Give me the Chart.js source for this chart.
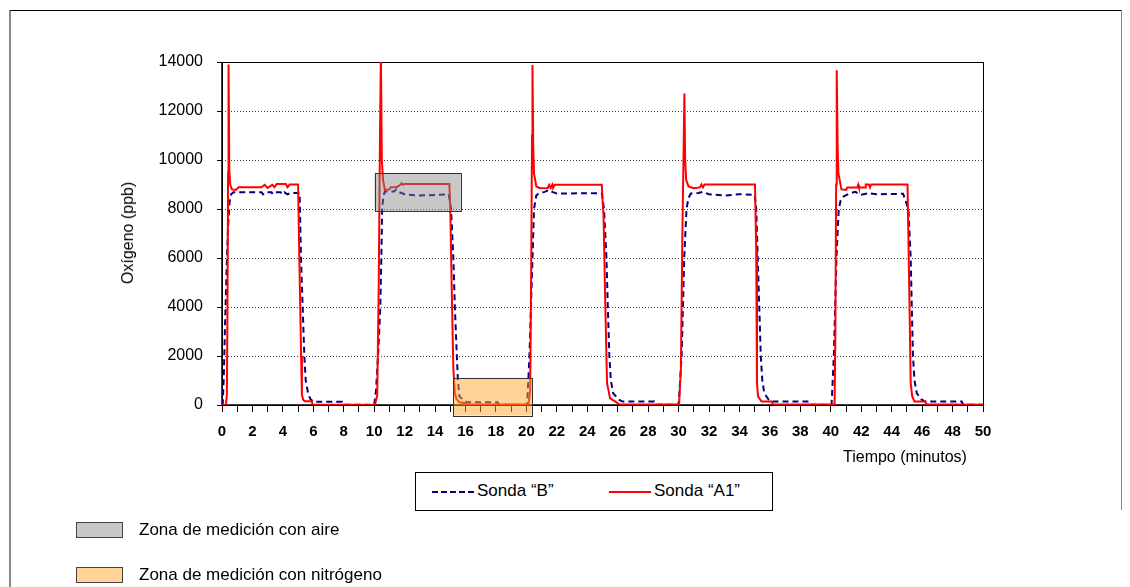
<!DOCTYPE html>
<html>
<head>
<meta charset="utf-8">
<script src="https://cdn.jsdelivr.net/npm/chart.js@4.4.0/dist/chart.umd.min.js"></script>
<style>
  html, body { margin: 0; padding: 0; background: #fff; }
  #wrap { position: relative; width: 1130px; height: 587px; overflow: hidden;
          font-family: "Liberation Sans", Arial, sans-serif; color: #000; }
  #frame { position: absolute; left: 9px; top: 10px; width: 1110px; height: 620px;
           border-top: 1px solid #000; border-left: 2px solid #888; }
  #frameR { position: absolute; left: 1121px; top: 10px; width: 0; height: 500px; border-left: 1px solid #888; }
  #grafico { position: absolute; left: 0; top: 0; }
  .txt { position: absolute; white-space: nowrap; font-size: 16px; line-height: 16px; }
  #ytitle { left: 128px; top: 233px; transform: translate(-50%, -50%) rotate(-90deg); }
  #xtitle { left: 843px; top: 449px; }
  #leyenda { position: absolute; left: 415px; top: 472px; width: 356px; height: 37px;
             border: 1px solid #000; background: #fff; }
  .muestra { position: absolute; top: 18px; height: 0; }
  .caja { position: absolute; left: 76px; width: 45px; height: 14px; border: 1px solid #444; }
</style>
</head>
<body>
<div id="wrap">
  <div id="frame"></div>
  <div id="frameR"></div>
  <canvas id="grafico" width="1130" height="587"></canvas>
  <div class="txt" id="ytitle">Oxígeno (ppb)</div>
  <div class="txt" id="xtitle">Tiempo (minutos)</div>
  <div id="leyenda">
    <div class="muestra" style="left:16px;width:42px;border-top:2px dashed #000080;"></div>
    <div class="txt" style="left:61px;top:10px;font-size:17px;">Sonda “B”</div>
    <div class="muestra" style="left:193px;width:42px;border-top:2px solid #ff0000;"></div>
    <div class="txt" style="left:238px;top:10px;font-size:17px;">Sonda “A1”</div>
  </div>
  <div class="caja" style="top:522px;background:#c8c8c8;"></div>
  <div class="txt" style="left:139px;top:522px;font-size:17px;">Zona de medición con aire</div>
  <div class="caja" style="top:567px;background:#ffd296;"></div>
  <div class="txt" style="left:139px;top:567px;font-size:17px;">Zona de medición con nitrógeno</div>
</div>
<script>
// Sonda "A1" (linea roja): tiempo en minutos y oxigeno en ppb
const tiempoA1 = [
  0, 0.25, 0.32, 0.36, 0.40, 0.43, 0.48, 0.54, 0.65, 0.9, 1.1, 2.6, 2.8, 3.0, 3.3, 3.45, 3.6, 4.2, 4.3, 4.45, 5.0,
  5.08, 5.2, 5.25, 5.35, 5.45, 5.9, 5.95, 10.05,
  10.2, 10.3, 10.38, 10.44, 10.5, 10.58, 10.7, 11.0, 11.1, 11.5, 11.7, 11.8, 11.9, 12.0, 14.94,
  15.0, 15.1, 15.2, 15.3, 15.4, 15.6, 16.0, 16.1, 20.13,
  20.25, 20.32, 20.37, 20.4, 20.45, 20.5, 20.65, 20.9, 21.4, 21.5, 21.6, 21.7, 21.75, 21.85, 24.95,
  25.07, 25.2, 25.3, 25.5, 25.85, 26.1, 30.03,
  30.15, 30.25, 30.33, 30.38, 30.43, 30.5, 30.65, 31.0, 31.4, 31.5, 31.6, 31.7, 35.02,
  35.1, 35.15, 35.22, 35.45, 36.1, 36.2, 40.25,
  40.3, 40.35, 40.39, 40.45, 40.5, 40.7, 41.0, 41.1, 41.75, 41.8, 41.85, 42.25, 42.3, 42.5, 42.58, 42.65, 45.04,
  45.15, 45.25, 45.35, 45.5, 46.2, 46.3, 50
];
const sondaA1 = [
  0, 0, 400, 4000, 9500, 13900, 9600, 9000, 8800, 8780, 8890, 8890, 8990, 8860, 8990, 8890, 9020, 9020, 8890, 9000, 9000,
  6000, 2000, 400, 200, 150, 150, 20, 0,
  400, 5000, 11000, 14300, 10000, 9200, 8780, 8800, 8890, 8900, 8980, 9050, 8990, 9020, 9020,
  7960, 4570, 1500, 490, 250, 110, 70, 25, 20,
  600, 6000, 11000, 13880, 10500, 9450, 8920, 8850, 8860, 8990, 8860, 8990, 8860, 8990, 8990,
  7680, 3600, 880, 270, 140, 30, 20,
  1500, 7000, 10500, 12710, 10000, 9180, 8920, 8850, 8880, 9000, 8880, 9000, 9000,
  6320, 880, 350, 140, 140, 30, 20,
  3000, 9000, 13660, 10500, 9450, 8800, 8780, 8880, 8880, 8990, 8880, 8880, 9000, 9000, 8880, 9000, 9000,
  4970, 880, 350, 140, 140, 30, 10
];

// Sonda "B" (linea azul discontinua)
const tiempoB = [
  0, 0.05, 0.12, 0.2, 0.3, 0.4, 0.5, 0.6, 0.75, 2.6, 2.7, 2.85, 3.25, 3.35, 3.5, 3.85, 3.95, 4.1, 4.3, 4.5, 5.1,
  5.19, 5.3, 5.41, 5.5, 5.65, 5.8, 6.0, 7.9, 8.0, 10.0,
  10.12, 10.25, 10.33, 10.4, 10.47, 10.52, 10.6, 10.7, 11.3, 11.45, 11.6, 12.0, 13.0, 14.9,
  15.05, 15.2, 15.3, 15.43, 15.5, 15.6, 15.85, 16.1, 18.1, 18.2, 20.05,
  20.2, 20.3, 20.4, 20.5, 20.65, 20.8, 21.2, 21.5, 21.7, 22.0, 24.95,
  25.1, 25.26, 25.35, 25.45, 25.55, 25.7, 26.05, 26.3, 28.4, 28.5, 30.0,
  30.2, 30.37, 30.52, 30.65, 30.8, 31.3, 31.6, 32.0, 33.0, 34.0, 35.0,
  35.1, 35.2, 35.3, 35.4, 35.5, 35.63, 35.9, 36.1, 38.6, 38.7, 40.05,
  40.2, 40.37, 40.52, 40.65, 40.8, 41.2, 41.6, 42.0, 42.5, 43.0, 44.75,
  45.1, 45.25, 45.32, 45.4, 45.5, 45.65, 45.95, 46.2, 48.6, 48.7, 50
];
const sondaB = [
  0, 50, 1200, 3300, 5500, 7300, 8300, 8600, 8680, 8680, 8600, 8680, 8680, 8600, 8680, 8680, 8600, 8680, 8600, 8650, 8650,
  6000, 4000, 2000, 1000, 500, 250, 130, 130, 10, 10,
  600, 2000, 3000, 4000, 6000, 8000, 8500, 8710, 8710, 8800, 8700, 8600, 8550, 8600,
  8000, 6000, 4000, 2000, 1000, 350, 210, 110, 110, 10, 10,
  2000, 4000, 6000, 8000, 8550, 8630, 8700, 8780, 8700, 8630, 8650,
  8000, 6000, 4000, 2000, 1000, 480, 230, 140, 140, 10, 10,
  2000, 6000, 8000, 8450, 8630, 8650, 8700, 8600, 8550, 8600, 8580,
  8000, 6000, 4000, 2000, 1000, 480, 230, 140, 140, 10, 10,
  2000, 6000, 8000, 8350, 8500, 8630, 8700, 8580, 8650, 8600, 8620,
  8000, 6000, 4000, 2000, 1000, 480, 230, 140, 140, 10, 10
];

// Ejes
const yTicks = [0, 2000, 4000, 6000, 8000, 10000, 12000, 14000];
const xMin = 0, xMax = 50;

// Zonas de medicion: [t inicio, t fin, ppb min, ppb max]
const zonaAire = [10.02, 15.69, 7900, 9450];
const zonaNitrogeno = [15.2, 20.4, -430, 1110];

const puntos = (ts, vs) => ts.map((t, i) => ({ x: t, y: vs[i] }));

const zonasPlugin = {
  id: 'zonas',
  beforeDatasetsDraw(chart) {
    const { ctx, chartArea: a } = chart;
    ctx.save();
    ctx.strokeStyle = '#000';
    ctx.lineWidth = 1;
    ctx.strokeRect(a.left + 0.5, a.top + 0.5, a.right - a.left, a.bottom - a.top);
    ctx.lineWidth = 1.5;
    ctx.beginPath();
    ctx.moveTo(a.left, a.top);
    ctx.lineTo(a.left, a.bottom);
    ctx.lineTo(a.right, a.bottom);
    ctx.stroke();
    ctx.restore();
  },
  afterDatasetsDraw(chart) {
    const { ctx, scales: { x, y } } = chart;
    const caja = (z, fill) => {
      const x0 = x.getPixelForValue(z[0]), x1 = x.getPixelForValue(z[1]);
      const y0 = y.getPixelForValue(z[3]), y1 = y.getPixelForValue(z[2]);
      ctx.fillStyle = fill;
      ctx.fillRect(x0, y0, x1 - x0, y1 - y0);
      ctx.strokeStyle = '#333';
      ctx.lineWidth = 1;
      ctx.strokeRect(Math.round(x0) + 0.5, Math.round(y0) + 0.5, Math.round(x1 - x0), Math.round(y1 - y0));
    };
    ctx.save();
    caja(zonaAire, 'rgba(133,133,133,0.45)');
    caja(zonaNitrogeno, 'rgba(255,163,41,0.49)');
    ctx.restore();
  }
};

new Chart(document.getElementById('grafico'), {
  type: 'line',
  data: {
    datasets: [
      {
        label: 'Sonda “B”',
        data: puntos(tiempoB, sondaB),
        borderColor: '#000080',
        borderWidth: 2,
        borderDash: [6, 4],
        pointRadius: 0,
        tension: 0,
        order: 2
      },
      {
        label: 'Sonda “A1”',
        data: puntos(tiempoA1, sondaA1),
        borderColor: '#ff0000',
        borderWidth: 2,
        pointRadius: 0,
        tension: 0,
        order: 1
      }
    ]
  },
  options: {
    responsive: false,
    animation: false,
    events: [],
    layout: { padding: { left: 0, top: 62, right: 147, bottom: 142 } },
    plugins: { legend: { display: false }, tooltip: { enabled: false } },
    scales: {
      x: {
        type: 'linear',
        min: xMin,
        max: xMax,
        afterFit: s => { s.height = 40; },
        ticks: {
          stepSize: 1,
          autoSkip: false,
          maxRotation: 0,
          padding: 11,
          color: '#000',
          font: { family: 'Liberation Sans', size: 15, weight: 'bold' },
          callback: v => (v % 2 === 0 ? String(v) : '')
        },
        grid: { drawOnChartArea: false, drawTicks: true, tickLength: 7, tickColor: '#000', tickWidth: 1 },
        border: { display: false }
      },
      y: {
        min: yTicks[0],
        max: yTicks[yTicks.length - 1],
        afterFit: s => { s.width = 222; },
        afterBuildTicks: s => { s.ticks = yTicks.map(v => ({ value: v })); },
        ticks: {
          padding: 14,
          color: '#000',
          font: { family: 'Liberation Sans', size: 16 },
          callback: v => String(v)
        },
        grid: { color: '#444', lineWidth: 1, tickLength: 5, tickColor: '#000', tickWidth: 1, tickBorderDash: [] },
        border: { display: false, dash: [1, 2] }
      }
    }
  },
  plugins: [zonasPlugin]
});
</script>
</body>
</html>
